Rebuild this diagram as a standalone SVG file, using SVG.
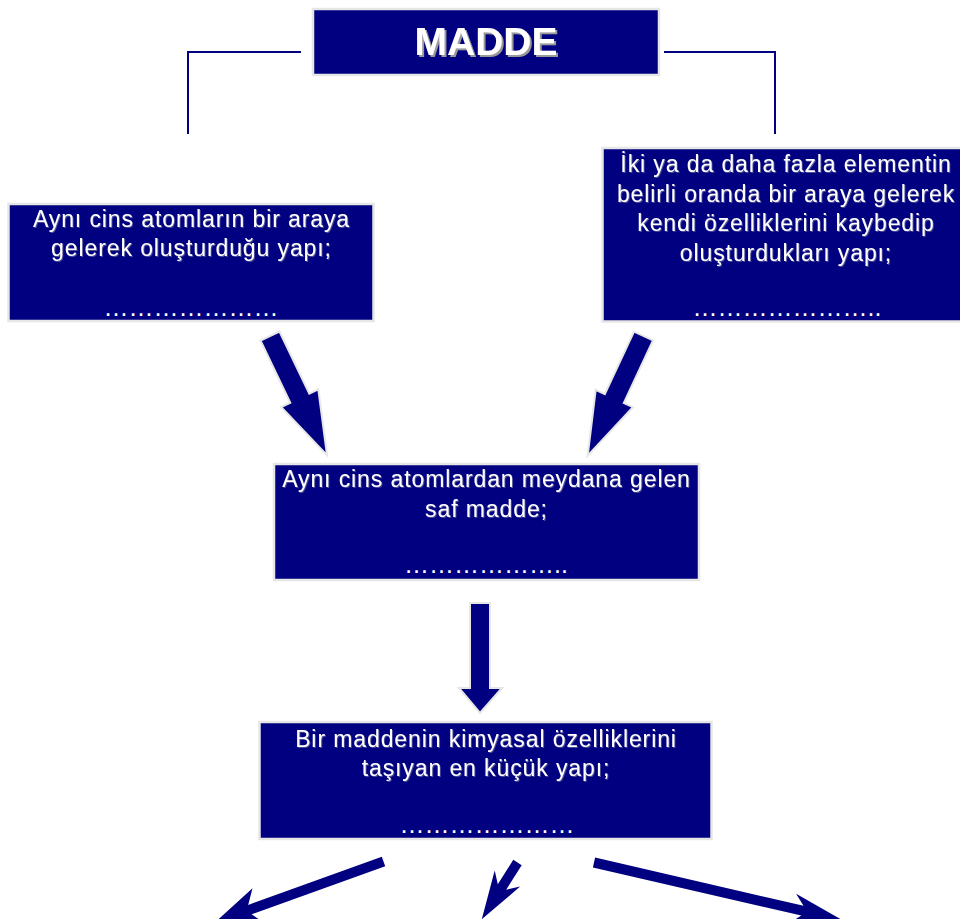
<svg xmlns="http://www.w3.org/2000/svg" width="960" height="919" viewBox="0 0 960 919">
  <defs>
    <filter id="titleShadow" x="-10%" y="-20%" width="130%" height="160%">
      <feDropShadow dx="2" dy="2" stdDeviation="0.6" flood-color="#9a9a9a" flood-opacity="1"/>
    </filter>
    <filter id="textShadow" x="-5%" y="-20%" width="110%" height="150%">
      <feDropShadow dx="1" dy="1" stdDeviation="0.4" flood-color="#6a6aa0" flood-opacity="0.7"/>
    </filter>
  </defs>
  <style>
    .box { fill: #000080; stroke: #e6e6e6; stroke-width: 2.5; }
    .txt { font-family: "Liberation Sans", Arial, sans-serif; font-size: 23px; fill: #ffffff; text-anchor: middle; letter-spacing: 0.9px; }
    .dots { font-family: "Liberation Sans", Arial, sans-serif; font-size: 25px; fill: #ffffff; text-anchor: middle; }
    .title { font-family: "Liberation Sans", Arial, sans-serif; font-size: 39px; font-weight: bold; fill: #ffffff; text-anchor: middle; }
    .line { fill: none; stroke: #000080; stroke-width: 2; }
    .big { fill: #000080; stroke: #e6e6e6; stroke-width: 2; stroke-linejoin: miter; }
    .thin { fill: #000080; stroke: none; }
  </style>

  <rect width="960" height="919" fill="#ffffff"/>

  <!-- connectors -->
  <g id="connectors">
    <polyline class="line" points="301,52 188,52 188,134"/>
    <polyline class="line" points="664,52 775,52 775,134"/>
    <polygon class="big" points="279.5,331.5 309.3,393.7 318.3,389.3 327,455.1 281.3,407.1 290.3,402.7 260.5,340.5"/>
    <polygon class="big" points="634,331.6 653,340.4 623.8,402.9 632.9,407.2 587.7,455.6 595.7,389.8 604.8,394.1"/>
    <polygon class="big" points="470,603 490,603 490,688 502,688 480,713 459,688 470,688"/>
    <polygon class="thin" points="381.8,856.8 248.2,904.9 252.5,888.2 214.9,922.5 266.1,924.2 251.6,914.3 385.2,866.2"/>
    <polygon class="thin" points="513.3,859.8 497.8,884.3 494.7,870.6 481.8,919.2 520.1,886.6 506.2,889.7 521.7,865.2"/>
    <polygon class="thin" points="595.1,857.6 803.5,905.8 796.1,893.8 841.4,919.6 789.3,923.0 801.3,915.6 592.9,867.4"/>
  </g>

  <!-- title -->
  <g id="madde">
    <rect class="box" x="313" y="9" width="346" height="66"/>
    <text class="title" x="486" y="55" filter="url(#titleShadow)">MADDE</text>
  </g>

  <!-- element -->
  <g id="element">
    <rect class="box" x="8.5" y="204" width="365" height="117"/>
    <g filter="url(#textShadow)">
      <text class="txt" x="191.5" y="227">Aynı cins atomların bir araya</text>
      <text class="txt" x="191.5" y="256">gelerek oluşturduğu yapı;</text>
    </g>
    <text class="dots" x="191" y="316">&#8230;&#8230;&#8230;&#8230;&#8230;&#8230;&#8230;</text>
  </g>

  <!-- compound -->
  <g id="bilesik">
    <rect class="box" x="602.5" y="148" width="370" height="173.5"/>
    <g filter="url(#textShadow)">
      <text class="txt" x="786" y="171.5">İki ya da daha fazla elementin</text>
      <text class="txt" x="786" y="201.5">belirli oranda bir araya gelerek</text>
      <text class="txt" x="786" y="231">kendi özelliklerini kaybedip</text>
      <text class="txt" x="786" y="261">oluşturdukları yapı;</text>
    </g>
    <text class="dots" x="787" y="316">&#8230;&#8230;&#8230;&#8230;&#8230;&#8230;&#8230;..</text>
  </g>

  <!-- pure substance -->
  <g id="saf-madde">
    <rect class="box" x="274" y="464" width="425" height="116"/>
    <g filter="url(#textShadow)">
      <text class="txt" x="486.5" y="487">Aynı cins atomlardan meydana gelen</text>
      <text class="txt" x="486.5" y="517">saf madde;</text>
    </g>
    <text class="dots" x="486" y="573">&#8230;&#8230;&#8230;&#8230;&#8230;&#8230;..</text>
  </g>

  <!-- smallest unit -->
  <g id="molekul">
    <rect class="box" x="259.5" y="722" width="452" height="117"/>
    <g filter="url(#textShadow)">
      <text class="txt" x="486" y="747">Bir maddenin kimyasal özelliklerini</text>
      <text class="txt" x="486" y="776">taşıyan en küçük yapı;</text>
    </g>
    <text class="dots" x="487" y="833">&#8230;&#8230;&#8230;&#8230;&#8230;&#8230;&#8230;</text>
  </g>
</svg>
